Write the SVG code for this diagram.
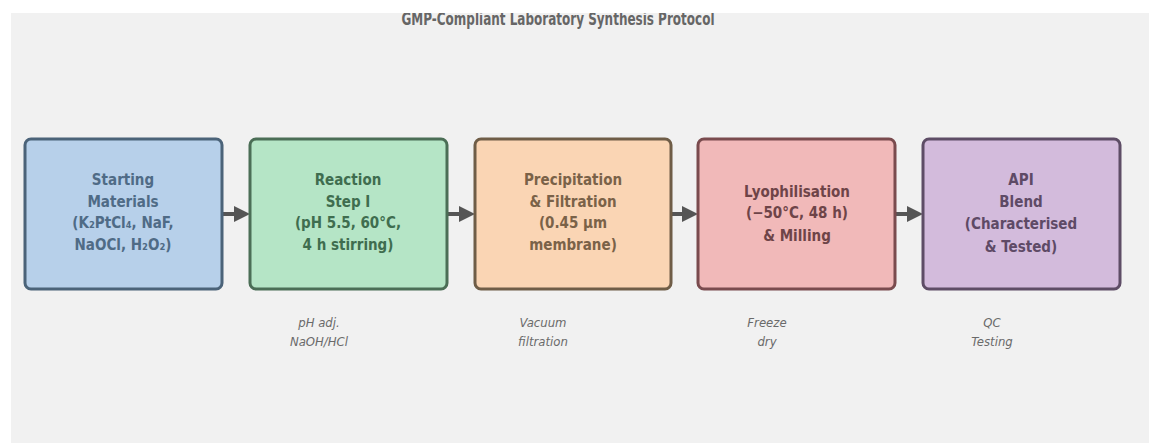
<svg xmlns="http://www.w3.org/2000/svg" width="1149" height="443" viewBox="0 0 1149 443">
<defs>
<style>
.box{stroke-width:3}
.lbl{font-family:"DejaVu Sans",sans-serif;font-weight:bold;font-size:15px;text-anchor:middle;font-stretch:condensed}
.ann{font-family:"DejaVu Sans",sans-serif;font-style:italic;font-size:13px;fill:#6a6a6a;text-anchor:middle;font-stretch:condensed}
.title{font-family:"DejaVu Sans",sans-serif;font-weight:bold;font-size:18px;fill:#666;text-anchor:middle;font-stretch:condensed}
.conn{stroke:#555;stroke-width:4;fill:none}
</style>
<marker id="ah" markerWidth="4" markerHeight="4" refX="3" refY="2" orient="auto" markerUnits="strokeWidth">
<path d="M0,0 L4,2 L0,4 z" fill="#555"/>
</marker>
</defs>
<rect x="0" y="0" width="1149" height="443" fill="#ffffff"/>
<rect x="11" y="13" width="1138" height="430" fill="#f1f1f1"/>
<text class="title" x="558" y="25" textLength="313" lengthAdjust="spacingAndGlyphs">GMP-Compliant Laboratory Synthesis Protocol</text>
<rect x="0" y="0" width="1149" height="13" fill="#ffffff"/>
<g id="connectors">
<line class="conn" x1="222" y1="214" x2="246" y2="214" marker-end="url(#ah)"/>
<line class="conn" x1="447" y1="214" x2="471" y2="214" marker-end="url(#ah)"/>
<line class="conn" x1="671" y1="214" x2="694" y2="214" marker-end="url(#ah)"/>
<line class="conn" x1="895" y1="214" x2="919" y2="214" marker-end="url(#ah)"/>
</g>
<g id="n1">
<rect class="box" x="25" y="139" width="197" height="150" rx="6" fill="#b7d0ea" stroke="#4b6379"/>
<text class="lbl" fill="#4f6b86"><tspan x="123" y="185">Starting</tspan><tspan x="123" y="207">Materials</tspan><tspan x="123" y="228">(K₂PtCl₄, NaF,</tspan><tspan x="123" y="250">NaOCl, H₂O₂)</tspan></text>
</g>
<g id="n2">
<rect class="box" x="250" y="139" width="197" height="150" rx="6" fill="#b5e5c6" stroke="#4b6e56"/>
<text class="lbl" fill="#3f6d4f"><tspan x="348" y="185">Reaction</tspan><tspan x="348" y="207">Step I</tspan><tspan x="348" y="228">(pH 5.5, 60°C,</tspan><tspan x="348" y="250">4 h stirring)</tspan></text>
</g>
<g id="n3">
<rect class="box" x="475" y="139" width="196" height="150" rx="6" fill="#fad5b4" stroke="#6f5d47"/>
<text class="lbl" fill="#7a6248"><tspan x="573" y="185">Precipitation</tspan><tspan x="573" y="207">&amp; Filtration</tspan><tspan x="573" y="228">(0.45 µm</tspan><tspan x="573" y="250">membrane)</tspan></text>
</g>
<g id="n4">
<rect class="box" x="698" y="139" width="197" height="150" rx="6" fill="#f1b9b9" stroke="#7a4b4e"/>
<text class="lbl" fill="#6e4448"><tspan x="797" y="197">Lyophilisation</tspan><tspan x="797" y="218">(−50°C, 48 h)</tspan><tspan x="797" y="241">&amp; Milling</tspan></text>
</g>
<g id="n5">
<rect class="box" x="923" y="139" width="197" height="150" rx="6" fill="#d3bbdc" stroke="#5e4d66"/>
<text class="lbl" fill="#5e4a66"><tspan x="1021" y="185">API</tspan><tspan x="1021" y="207">Blend</tspan><tspan x="1021" y="229">(Characterised</tspan><tspan x="1021" y="252">&amp; Tested)</tspan></text>
</g>
<g id="annotations">
<text class="ann"><tspan x="319" y="327">pH adj.</tspan><tspan x="319" y="346">NaOH/HCl</tspan></text>
<text class="ann"><tspan x="543" y="327">Vacuum</tspan><tspan x="543" y="346">filtration</tspan></text>
<text class="ann"><tspan x="767" y="327">Freeze</tspan><tspan x="767" y="346">dry</tspan></text>
<text class="ann"><tspan x="992" y="327">QC</tspan><tspan x="992" y="346">Testing</tspan></text>
</g>
</svg>
